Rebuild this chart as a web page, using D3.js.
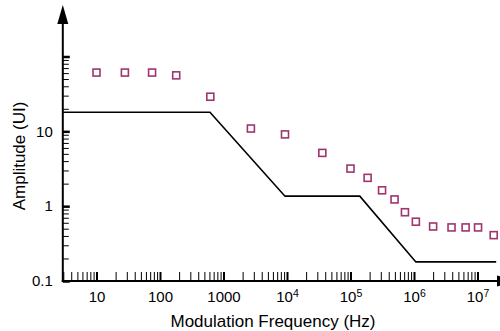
<!DOCTYPE html>
<html>
<head>
<meta charset="utf-8">
<script src="https://cdn.jsdelivr.net/npm/d3@7"></script>
<style>
  body { margin: 0; background: #fff; }
  svg { display: block; font-family: "Liberation Sans", Arial, sans-serif; }
</style>
</head>
<body>
<div id="root"></div>
<script>
// measured jitter tolerance (squares)
var measFreq = [10, 28, 75, 180, 620, 2700, 9300, 36000, 100000, 186000, 314000, 494000, 720000, 1070000, 2000000, 3900000, 6500000, 10200000, 18000000];
var measAmp = [61, 61, 61, 56, 29, 10.9, 9.1, 5.15, 3.18, 2.39, 1.63, 1.23, 0.83, 0.62, 0.535, 0.52, 0.52, 0.52, 0.41];

// tolerance mask (line)
var maskFreq = [2.9, 612, 9300, 140000, 1070000, 19700000];
var maskAmp = [18, 18, 1.36, 1.36, 0.18, 0.18];

// tick values
var xMajor = [10, 100, 1000, 1e4, 1e5, 1e6, 1e7];
var xLabels = ["10", "100", "1000", "10|4", "10|5", "10|6", "10|7"];
var yMajor = [0.1, 1, 10, 100];
var yLabels = ["0.1", "1", "10", ""];

var W = 500, H = 331;

var x = d3.scaleLog().domain([10, 1e7]).range([96.5, 477.5]);
var y = d3.scaleLog().domain([0.1, 100]).range([281, 56.5]);

var xMinor = [];
for (var e = 0; e < 7; e++) {
  for (var k = 2; k <= 9; k++) {
    var v = k * Math.pow(10, e);
    if (v >= 3 && v < 1e7) xMinor.push(v);
  }
}
var yMinor = [];
for (var e2 = -1; e2 < 2; e2++) {
  for (var k2 = 2; k2 <= 9; k2++) yMinor.push(k2 * Math.pow(10, e2));
}

var svg = d3.select("#root")
  .append("svg")
  .attr("width", W)
  .attr("height", H);

var x0 = x(3) - 0.5, yBase = y(0.1);

// minor x ticks
svg.append("g")
  .attr("transform", "translate(0," + yBase + ")")
  .call(d3.axisBottom(x).tickValues(xMinor).tickSize(-9).tickFormat(""))
  .call(g => g.select(".domain").remove())
  .selectAll("line").attr("stroke", "#000");

// major x ticks + labels
var gx = svg.append("g")
  .attr("transform", "translate(0," + yBase + ")")
  .call(d3.axisBottom(x).tickValues(xMajor).tickSize(-9).tickPadding(10)
    .tickFormat((d, i) => xLabels[i]))
  .call(g => g.select(".domain").remove());
gx.selectAll("line").attr("stroke", "#000").attr("stroke-width", 2);
gx.selectAll("text")
  .attr("font-size", 15)
  .attr("font-family", "Liberation Sans, Arial, sans-serif")
  .attr("fill", "#000")
  .each(function () {
    var t = d3.select(this), s = t.text().split("|");
    if (s.length > 1) {
      t.text(s[0]);
      t.append("tspan").attr("font-size", "0.7em").attr("dy", "-0.45em").text(s[1]);
    }
  });

// minor y ticks
svg.append("g")
  .attr("transform", "translate(" + x0 + ",0)")
  .call(d3.axisLeft(y).tickValues(yMinor).tickSize(-6).tickFormat(""))
  .call(g => g.select(".domain").remove())
  .selectAll("line").attr("stroke", "#000");

// major y ticks + labels
var gy = svg.append("g")
  .attr("transform", "translate(" + x0 + ",0)")
  .call(d3.axisLeft(y).tickValues(yMajor).tickSize(-7).tickPadding(10)
    .tickFormat((d, i) => yLabels[i]))
  .call(g => g.select(".domain").remove());
gy.selectAll("line").attr("stroke", "#000").attr("stroke-width", 2.5);
gy.selectAll("text")
  .attr("font-size", 15)
  .attr("font-family", "Liberation Sans, Arial, sans-serif")
  .attr("fill", "#000");

// axis lines with arrows
svg.append("line")
  .attr("x1", x0).attr("x2", x0).attr("y1", yBase + 1).attr("y2", 22)
  .attr("stroke", "#000").attr("stroke-width", 2);
svg.append("path")
  .attr("d", "M" + (x0 - 5.5) + ",24L" + x0 + ",5L" + (x0 + 5.5) + ",24Z")
  .attr("fill", "#000");
svg.append("line")
  .attr("x1", x0 - 1).attr("x2", 499).attr("y1", yBase).attr("y2", yBase)
  .attr("stroke", "#000").attr("stroke-width", 2);
svg.append("path")
  .attr("d", "M497," + (yBase - 5.5) + "L516," + yBase + "L497," + (yBase + 5.5) + "Z")
  .attr("fill", "#000");

// mask line
svg.append("path")
  .datum(d3.zip(maskFreq, maskAmp))
  .attr("fill", "none")
  .attr("stroke", "#000")
  .attr("stroke-width", 1.6)
  .attr("d", d3.line().x(d => x(d[0])).y(d => y(d[1])));

// measured points
svg.selectAll(".pt")
  .data(d3.zip(measFreq, measAmp))
  .enter()
  .append("rect")
  .attr("class", "pt")
  .attr("x", d => x(d[0]) - 3.5)
  .attr("y", d => y(d[1]) - 3.5)
  .attr("width", 7)
  .attr("height", 7)
  .attr("fill", "#fff")
  .attr("stroke", "#9e356e")
  .attr("stroke-width", 1.6);

// axis titles
svg.append("text")
  .attr("x", 273).attr("y", 327)
  .attr("text-anchor", "middle")
  .attr("font-size", 17)
  .text("Modulation Frequency (Hz)");
svg.append("text")
  .attr("transform", "translate(25,156) rotate(-90)")
  .attr("text-anchor", "middle")
  .attr("font-size", 17)
  .text("Amplitude (UI)");
</script>
</body>
</html>
